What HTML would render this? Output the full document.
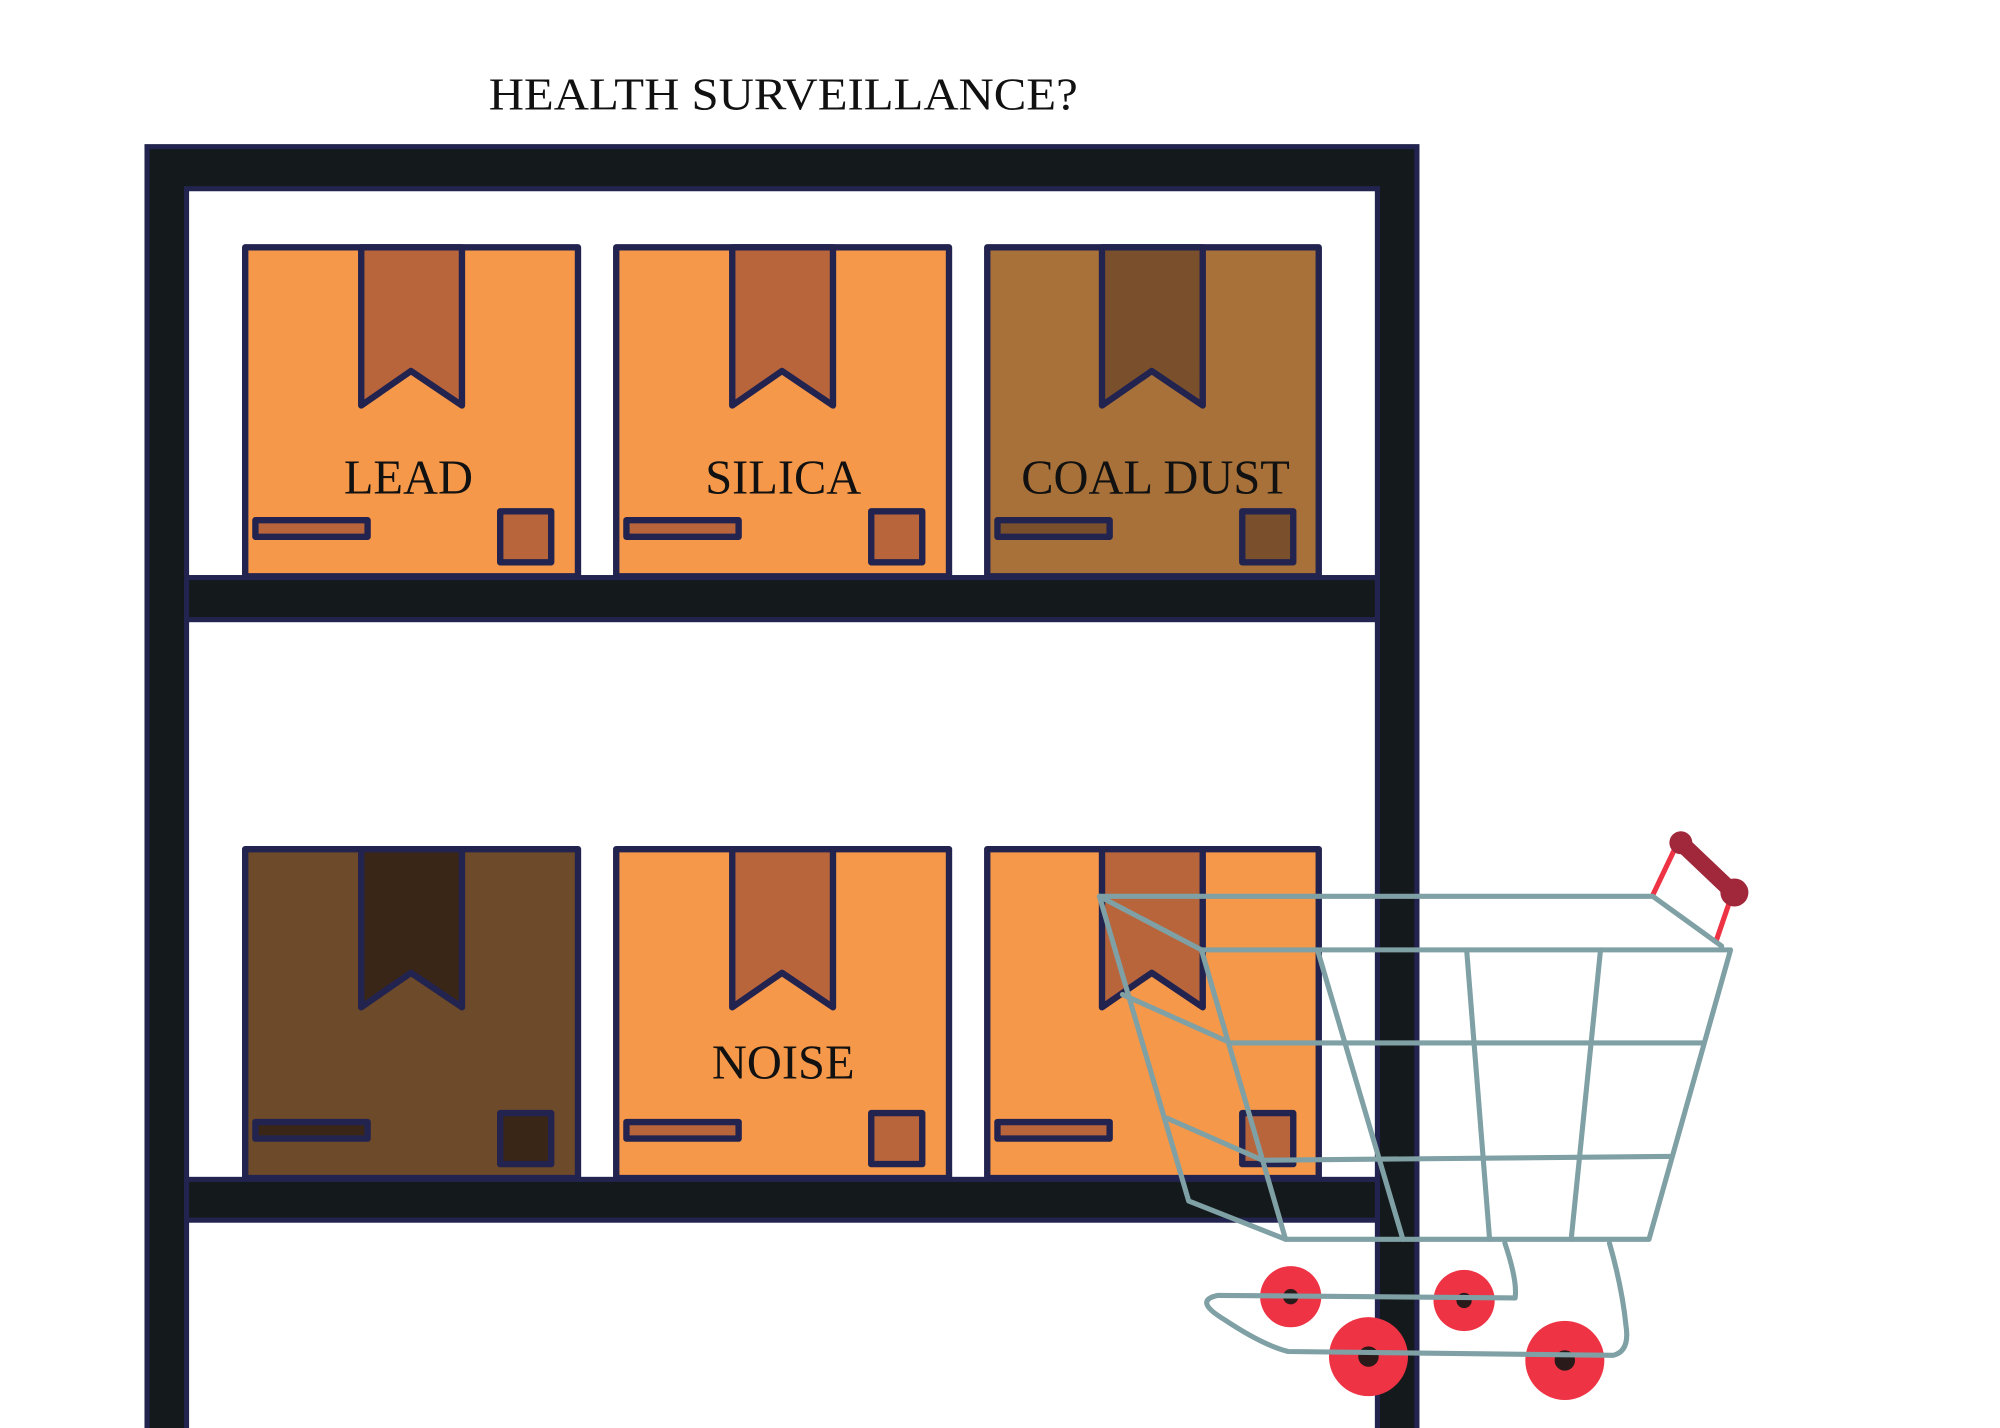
<!DOCTYPE html>
<html><head><meta charset="utf-8"><style>
html,body{margin:0;padding:0;background:#fff;}
svg{display:block;}
text{font-family:"Liberation Serif",serif;fill:#111;}
</style></head><body>
<svg width="2000" height="1428" viewBox="0 0 1568 1120" xmlns="http://www.w3.org/2000/svg">
<rect width="1568" height="1120" fill="#fff"/>
<text x="383" y="86" font-size="36" textLength="462" lengthAdjust="spacingAndGlyphs">HEALTH SURVEILLANCE?</text>

<g fill="#141a1c" stroke="#23234f" stroke-width="4">
<path d="M115,1122 L115,115 L1111,115 L1111,1122 L1080,1122 L1080,148 L146,148 L146,1122 Z"/>
<rect x="146" y="453" width="934" height="33"/>
<rect x="146" y="925" width="934" height="32"/>
</g>

<g stroke="#23234f" stroke-width="5" stroke-linejoin="round">
<g>
<rect x="192" y="194" width="261" height="258" fill="#f5984a"/>
<path d="M283,194 L362,194 L362,318 L322,291 L283,318 Z" fill="#b8653c"/>
<rect x="200" y="408" width="88" height="13" fill="#b8653c"/>
<rect x="392" y="401" width="40" height="40" fill="#b8653c"/>
</g>
<g>
<rect x="483" y="194" width="261" height="258" fill="#f5984a"/>
<path d="M574,194 L653,194 L653,318 L613,291 L574,318 Z" fill="#b8653c"/>
<rect x="491" y="408" width="88" height="13" fill="#b8653c"/>
<rect x="683" y="401" width="40" height="40" fill="#b8653c"/>
</g>
<g>
<rect x="774" y="194" width="260" height="258" fill="#a87139"/>
<path d="M864,194 L943,194 L943,318 L903,291 L864,318 Z" fill="#7a502c"/>
<rect x="782" y="408" width="88" height="13" fill="#7a502c"/>
<rect x="974" y="401" width="40" height="40" fill="#7a502c"/>
</g>
<g>
<rect x="192" y="666" width="261" height="258" fill="#6d4a29"/>
<path d="M283,666 L362,666 L362,790 L322,763 L283,790 Z" fill="#3a2616"/>
<rect x="200" y="880" width="88" height="13" fill="#3a2616"/>
<rect x="392" y="873" width="40" height="40" fill="#3a2616"/>
</g>
<g>
<rect x="483" y="666" width="261" height="258" fill="#f5984a"/>
<path d="M574,666 L653,666 L653,790 L613,763 L574,790 Z" fill="#b8653c"/>
<rect x="491" y="880" width="88" height="13" fill="#b8653c"/>
<rect x="683" y="873" width="40" height="40" fill="#b8653c"/>
</g>
<g>
<rect x="774" y="666" width="260" height="258" fill="#f5984a"/>
<path d="M864,666 L943,666 L943,790 L903,763 L864,790 Z" fill="#b8653c"/>
<rect x="782" y="880" width="88" height="13" fill="#b8653c"/>
<rect x="974" y="873" width="40" height="40" fill="#b8653c"/>
</g>
</g>
<text x="320" y="387" font-size="38" text-anchor="middle">LEAD</text>
<text x="614" y="387" font-size="38" text-anchor="middle">SILICA</text>
<text x="906" y="387" font-size="38" text-anchor="middle">COAL DUST</text>
<text x="614" y="846" font-size="38" text-anchor="middle">NOISE</text>

<g stroke="#ee3344" stroke-width="4" fill="none">
<line x1="1296" y1="702" x2="1316" y2="660"/>
<line x1="1345" y1="740" x2="1358" y2="702"/>
</g>
<line x1="1318" y1="661" x2="1358" y2="699" stroke="#a0283a" stroke-width="13" stroke-linecap="round"/>
<circle cx="1318" cy="661" r="9" fill="#a0283a"/>
<circle cx="1360" cy="700" r="11" fill="#a0283a"/>

<g fill="#ee3344">
<circle cx="1012" cy="1017" r="24"/>
<circle cx="1148" cy="1020" r="24"/>
<circle cx="1073" cy="1064" r="31"/>
<circle cx="1227" cy="1067" r="31"/>
</g>
<g fill="#2a1a1a">
<circle cx="1012" cy="1017" r="6"/>
<circle cx="1148" cy="1020" r="6"/>
<circle cx="1073" cy="1064" r="8"/>
<circle cx="1227" cy="1067" r="8"/>
</g>

<g stroke="#7fa0a4" stroke-width="4" fill="none" stroke-linejoin="round" stroke-linecap="round">
<path d="M862,703 L1296,703 L1350,742"/>
<path d="M942,745 L1357,745 L1293,972 L1008,972 Z"/>
<path d="M862,703 L932,942 L1008,972"/>
<path d="M862,703 L942,745"/>
<path d="M880,780 L965,818 L1335,818"/>
<path d="M915,877 L990,910 L1310,907"/>
<path d="M1033,745 L1100,972"/>
<path d="M1150,745 L1168,972"/>
<path d="M1255,745 L1232,972"/>
<path d="M1180,975 Q1190,1005 1188,1018 L955,1016 Q935,1020 960,1035 Q990,1055 1010,1060 L1265,1063 Q1278,1060 1275,1040 Q1272,1010 1262,975"/>
</g>
</svg>
</body></html>
